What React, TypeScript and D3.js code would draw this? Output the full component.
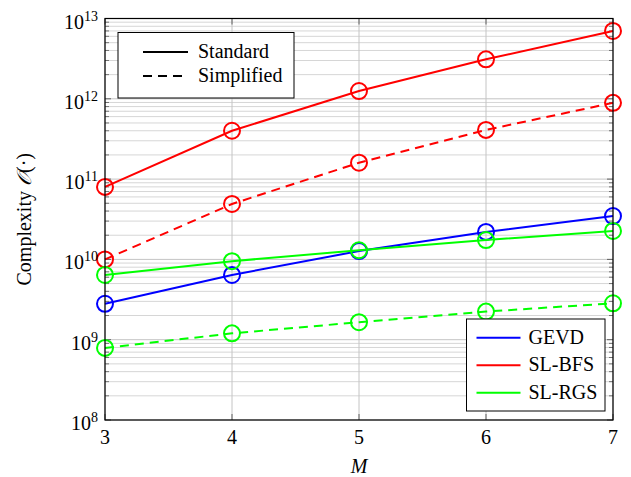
import React from "react";
import * as d3 from "d3";

const M_VALUES = [3, 4, 5, 6, 7];
const GEVD = [2.8e9, 6.4e9, 1.27e10, 2.2e10, 3.47e10];
const SLBFS_STD = [8e10, 4e11, 1.25e12, 3.1e12, 7e12];
const SLBFS_SIMP = [1e10, 4.9e10, 1.6e11, 4.1e11, 8.9e11];
const SLRGS_STD = [6.4e9, 9.5e9, 1.3e10, 1.74e10, 2.26e10];
const SLRGS_SIMP = [7.9e8, 1.2e9, 1.65e9, 2.24e9, 2.84e9];
const Y_EXPONENTS = [8, 9, 10, 11, 12, 13];

const W = 631;
const H = 477;
const L = 105, R = 613, T = 18.5, B = 420;
const FONT = "Liberation Serif, Times New Roman, serif";
const TS: React.CSSProperties = { fontFamily: FONT };

export default function App() {
  const x = d3.scaleLinear().domain([3, 7]).range([L, R]);
  const y = d3.scaleLog().domain([1e8, 1e13]).range([B, T]);
  const line = d3
    .line<number>()
    .x((_, i) => x(M_VALUES[i]))
    .y((d) => y(d));

  const minorVals: number[] = [];
  for (let e = 8; e < 13; e++) {
    for (let k = 2; k <= 9; k++) minorVals.push(k * Math.pow(10, e));
  }

  const series = [
    { data: SLRGS_SIMP, color: "#00ff00", dash: "9 6" },
    { data: SLBFS_SIMP, color: "#ff0000", dash: "9 6" },
    { data: GEVD, color: "#0000ff", dash: null },
    { data: SLRGS_STD, color: "#00ff00", dash: null },
    { data: SLBFS_STD, color: "#ff0000", dash: null },
  ];

  return (
    <svg
      width={W}
      height={H}
      style={{ position: "absolute", left: 0, top: 0, background: "#fff", fontFamily: FONT }}
    >
      <rect x={0} y={0} width={W} height={H} fill="#fff" />
      {minorVals.map((v, i) => (
        <line key={"mg" + i} x1={L} x2={R} y1={y(v)} y2={y(v)} stroke="#d6d6d6" strokeWidth={1} />
      ))}
      {Y_EXPONENTS.map((e) => (
        <line key={"Mg" + e} x1={L} x2={R} y1={y(Math.pow(10, e))} y2={y(Math.pow(10, e))} stroke="#c4c4c4" strokeWidth={1} />
      ))}
      {M_VALUES.map((m) => (
        <line key={"vg" + m} x1={x(m)} x2={x(m)} y1={T} y2={B} stroke="#c4c4c4" strokeWidth={1} />
      ))}
      {minorVals.map((v, i) => (
        <g key={"mt" + i}>
          <line x1={L} x2={L + 4} y1={y(v)} y2={y(v)} stroke="#555" strokeWidth={0.8} />
          <line x1={R - 4} x2={R} y1={y(v)} y2={y(v)} stroke="#555" strokeWidth={0.8} />
        </g>
      ))}
      {Y_EXPONENTS.map((e) => (
        <g key={"Mt" + e}>
          <line x1={L} x2={L + 6} y1={y(Math.pow(10, e))} y2={y(Math.pow(10, e))} stroke="#444" strokeWidth={0.8} />
          <line x1={R - 6} x2={R} y1={y(Math.pow(10, e))} y2={y(Math.pow(10, e))} stroke="#444" strokeWidth={0.8} />
        </g>
      ))}
      {M_VALUES.map((m) => (
        <g key={"xt" + m}>
          <line x1={x(m)} x2={x(m)} y1={B} y2={B - 6} stroke="#444" strokeWidth={0.8} />
          <line x1={x(m)} x2={x(m)} y1={T} y2={T + 6} stroke="#444" strokeWidth={0.8} />
        </g>
      ))}
      {series.map((s, si) => (
        <g key={"s" + si}>
          <path
            d={line(s.data) || ""}
            fill="none"
            stroke={s.color}
            strokeWidth={2}
            strokeDasharray={s.dash || undefined}
          />
          {s.data.map((v, i) => (
            <circle key={i} cx={x(M_VALUES[i])} cy={y(v)} r={8} fill="none" stroke={s.color} strokeWidth={2} />
          ))}
        </g>
      ))}
      <rect x={L} y={T} width={R - L} height={B - T} fill="none" stroke="#000" strokeWidth={1.2} />
      {Y_EXPONENTS.map((e) => (
        <text key={"yl" + e} x={98} y={y(Math.pow(10, e)) + 10} textAnchor="end" fontSize={20} fill="#000" style={TS}>
          10
          <tspan fontSize={14} dy={-8}>{e}</tspan>
        </text>
      ))}
      {M_VALUES.map((m) => (
        <text key={"xl" + m} x={x(m)} y={444} textAnchor="middle" fontSize={20} fill="#000" style={TS}>
          {m}
        </text>
      ))}
      <text x={359} y={473} textAnchor="middle" fontSize={20} fontStyle="italic" style={TS}>
        M
      </text>
      <text transform={`translate(31, ${(T + B) / 2}) rotate(-90)`} textAnchor="middle" fontSize={20} style={TS}>
        Complexity <tspan fontStyle="italic">𝒪</tspan>(·)
      </text>
      <rect x={118} y={32.5} width={176} height={65.5} fill="#fff" stroke="#000" strokeWidth={1} />
      <line x1={143} x2={188} y1={52} y2={52} stroke="#000" strokeWidth={2} />
      <line x1={143} x2={188} y1={76} y2={76} stroke="#000" strokeWidth={2} strokeDasharray="9 6" />
      <text x={198} y={58} fontSize={20} style={TS}>Standard</text>
      <text x={198} y={82} fontSize={20} style={TS}>Simplified</text>
      <rect x={466.5} y={319} width={138.5} height={92} fill="#fff" stroke="#000" strokeWidth={1} />
      {[
        { label: "GEVD", color: "#0000ff" },
        { label: "SL-BFS", color: "#ff0000" },
        { label: "SL-RGS", color: "#00ff00" },
      ].map((e, i) => (
        <g key={e.label}>
          <line x1={476.5} x2={520.5} y1={337.7 + i * 27.5} y2={337.7 + i * 27.5} stroke={e.color} strokeWidth={2} />
          <text x={528.5} y={343.7 + i * 27.5} fontSize={20} style={TS}>{e.label}</text>
        </g>
      ))}
    </svg>
  );
}
